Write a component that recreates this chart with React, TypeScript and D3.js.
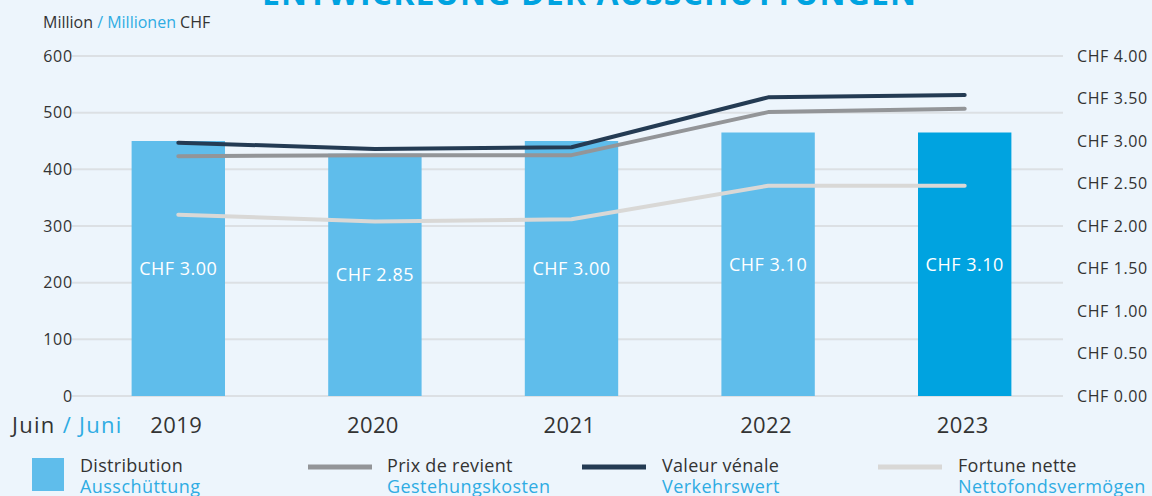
import React from "react";
import * as d3 from "d3";

const years = ["2019", "2020", "2021", "2022", "2023"];
const distribution = [3.0, 2.85, 3.0, 3.1, 3.1];
const distributionLabels = ["CHF 3.00", "CHF 2.85", "CHF 3.00", "CHF 3.10", "CHF 3.10"];
const prixDeRevient = [423, 425, 425, 501, 507];
const valeurVenale = [447, 436, 439, 527, 531];
const fortuneNette = [320, 308, 312, 371, 371];
const leftTicks = [0, 100, 200, 300, 400, 500, 600];
const rightTicks = [0, 0.5, 1, 1.5, 2, 2.5, 3, 3.5, 4];

const W = 1152;
const H = 496;
const FONT = "'Open Sans', sans-serif";
const DARK = "#333333";
const BLUE = "#2FACE3";

export default function App() {
  const yLeft = d3.scaleLinear().domain([0, 600]).range([396, 56]);
  const yRight = d3.scaleLinear().domain([0, 4]).range([396, 56]);
  const x = d3
    .scaleBand<string>()
    .domain(years)
    .range([80, 1063])
    .paddingInner(0.525)
    .paddingOuter(0.2625);
  const cx = (y: string) => (x(y) as number) + x.bandwidth() / 2;

  const line = d3
    .line<number>()
    .x((_, i) => cx(years[i]))
    .y((v) => yLeft(v));

  const lines = [
    { data: prixDeRevient, color: "#939598" },
    { data: valeurVenale, color: "#243B53" },
    { data: fortuneNette, color: "#D9D8D6" },
  ];
  const drawOrder = [lines[2], lines[0], lines[1]];

  const legendLines = [
    { x1: 308, x2: 372, color: "#939598", fr: "Prix de revient", de: "Gestehungskosten", tx: 387 },
    { x1: 582, x2: 646, color: "#243B53", fr: "Valeur vénale", de: "Verkehrswert", tx: 662 },
    { x1: 878, x2: 942, color: "#D9D8D6", fr: "Fortune nette", de: "Nettofondsvermögen", tx: 958 },
  ];

  return (
    <svg
      width={W}
      height={H}
      style={{ position: "absolute", left: 0, top: 0, background: "#EDF5FC", fontFamily: FONT }}
    >
      <rect x={0} y={0} width={W} height={H} fill="#EDF5FC" />
      <text
        x={589}
        y={4.5}
        textAnchor="middle"
        fontSize={32}
        fontWeight={700}
        fill="#00A3E0"
        textLength={654}
        lengthAdjust="spacing"
      >
        ENTWICKLUNG DER AUSSCHÜTTUNGEN
      </text>

      <text x={43} y={28} fontSize={16} fill={DARK}>
        Million <tspan fill={BLUE}>/ Millionen</tspan> CHF
      </text>

      {leftTicks.map((t) => (
        <g key={"g" + t}>
          <line x1={72} x2={1063} y1={yLeft(t)} y2={yLeft(t)} stroke="#DCE0E4" strokeWidth={2} />
          <text x={73} y={yLeft(t) + 5.7} textAnchor="end" fontSize={16} fill={DARK} letterSpacing={0.8}>
            {t}
          </text>
        </g>
      ))}

      {rightTicks.map((t) => (
        <text key={"r" + t} x={1077} y={yRight(t) + 5.7} fontSize={16} fill={DARK} letterSpacing={0.6}>
          {"CHF " + t.toFixed(2)}
        </text>
      ))}

      {years.map((y, i) => (
        <g key={"b" + y}>
          <rect
            x={x(y)}
            y={yRight(distribution[i])}
            width={x.bandwidth()}
            height={yRight(0) - yRight(distribution[i])}
            fill={i === years.length - 1 ? "#00A3E0" : "#5FBDEB"}
          />
          <text
            x={cx(y)}
            y={(yRight(distribution[i]) + yRight(0)) / 2 + 6.5}
            textAnchor="middle"
            fontSize={18}
            fill="#FFFFFF"
            letterSpacing={0.5}
          >
            {distributionLabels[i]}
          </text>
        </g>
      ))}

      {drawOrder.map((l, k) => (
        <path
          key={"l" + k}
          d={line(l.data) || ""}
          fill="none"
          stroke={l.color}
          strokeWidth={4}
          strokeLinecap="round"
          strokeLinejoin="round"
        />
      ))}

      <text x={12} y={433} fontSize={22} fill={DARK} letterSpacing={1.3}>
        Juin <tspan fill={BLUE}>/ Juni</tspan>
      </text>
      {years.map((y) => (
        <text key={"x" + y} x={cx(y) - 2} y={433} textAnchor="middle" fontSize={22} fill={DARK} letterSpacing={0.4}>
          {y}
        </text>
      ))}

      <rect x={32} y={458} width={32} height={33} fill="#5FBDEB" />
      <text x={80} y={472} fontSize={18} fill={DARK} letterSpacing={0.3}>
        Distribution
      </text>
      <text x={80} y={493} fontSize={18} fill={BLUE} letterSpacing={0.45}>
        Ausschüttung
      </text>
      {legendLines.map((l) => (
        <g key={l.fr}>
          <line x1={l.x1} x2={l.x2} y1={467} y2={467} stroke={l.color} strokeWidth={5} />
          <text x={l.tx} y={472} fontSize={18} fill={DARK} letterSpacing={0.3}>
            {l.fr}
          </text>
          <text x={l.tx} y={493} fontSize={18} fill={BLUE} letterSpacing={0.45}>
            {l.de}
          </text>
        </g>
      ))}
    </svg>
  );
}
